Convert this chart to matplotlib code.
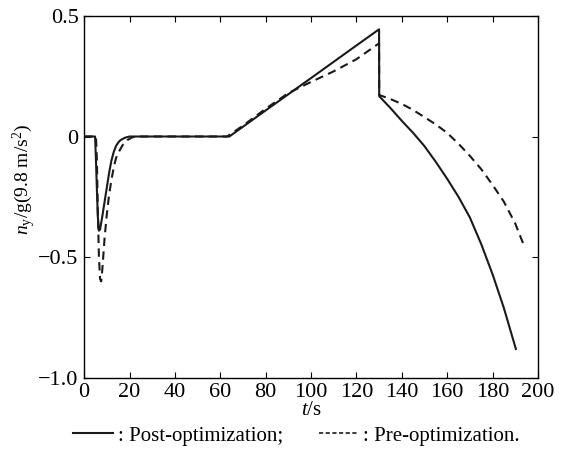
import matplotlib
matplotlib.use("Agg")
import matplotlib.pyplot as plt
from matplotlib.lines import Line2D

plt.rcParams["font.family"] = ["Liberation Serif", "DejaVu Serif"]
plt.rcParams["mathtext.fontset"] = "custom"
plt.rcParams["mathtext.rm"] = "Liberation Serif"
plt.rcParams["mathtext.it"] = "Liberation Serif:italic"

# 优化后（实线）
t_post = [0, 4.8, 5.2, 5.6, 6.0, 6.5, 7.0, 8, 9, 10, 11, 12, 13, 14, 15, 16,
          18, 20, 40, 64.0, 80, 100, 120, 130.0, 130.05, 135, 140, 145, 150,
          155, 160, 165, 170, 175, 180, 185, 190.3]
ny_post = [0, 0, -0.1, -0.22, -0.33, -0.39, -0.385, -0.33, -0.27, -0.21,
           -0.15, -0.1, -0.065, -0.04, -0.025, -0.015, -0.005, 0, 0, 0,
           0.108, 0.242, 0.377, 0.444, 0.167, 0.118, 0.065, 0.015, -0.04,
           -0.105, -0.175, -0.25, -0.335, -0.445, -0.57, -0.71, -0.88]

# 优化前（虚线）
t_pre = [0, 5.2, 5.6, 6.0, 6.5, 7.0, 7.5, 8.0, 9.0, 10, 11, 12, 13, 14, 15,
         17, 19, 21, 23, 40, 63.0, 70, 80, 90, 100, 110, 120, 130.0, 130.05,
         135, 140, 145, 150, 155, 160, 165, 170, 175, 180, 185, 190, 193.8]
ny_pre = [0, 0, -0.1, -0.3, -0.5, -0.59, -0.6, -0.55, -0.42, -0.32, -0.24,
          -0.18, -0.13, -0.09, -0.068, -0.035, -0.015, -0.004, 0, 0, 0,
          0.045, 0.115, 0.18, 0.226, 0.27, 0.32, 0.386, 0.172, 0.155, 0.135,
          0.11, 0.08, 0.05, 0.015, -0.03, -0.08, -0.135, -0.2, -0.27, -0.36,
          -0.45]

x_ticks = [0, 20, 40, 60, 80, 100, 120, 140, 160, 180, 200]
y_ticks = [-1.0, -0.5, 0, 0.5]
y_tick_labels = ["\u22121.0", "\u22120.5", "0", "0.5"]

fig = plt.figure(figsize=(5.65, 4.51), dpi=100)
ax = fig.add_axes([0.149, 0.162, 0.803, 0.803])

ax.plot(t_post, ny_post, color="#1a1a1a", lw=1.5, ls="-")
ax.plot(t_pre, ny_pre, color="#1a1a1a", lw=1.5, ls=(0, (4, 2.6)))

ax.set_xlim(0, 200)
ax.set_ylim(-1.0, 0.5)
ax.set_xticks(x_ticks)
ax.set_yticks(y_ticks)
ax.set_yticklabels(y_tick_labels)
ax.tick_params(direction="in", top=True, right=True, length=4, width=0.8,
               labelsize=16, pad=4)
for s in ax.spines.values():
    s.set_linewidth(1.0)

ax.set_xlabel("$t$/s", fontsize=15, labelpad=-1)
ax.set_ylabel(r"$n_\mathrm{y}$/g(9.8 m/s$^2$)", fontsize=14, labelpad=0)
ax.yaxis.label.set_y(0.547)

handles = [
    Line2D([], [], color="#1a1a1a", lw=1.5, ls="-"),
    Line2D([], [], color="#1a1a1a", lw=1.2, ls=(0, (2.5, 1.5))),
]
fig.legend(handles, [": Post-optimization;", ": Pre-optimization."],
           loc="lower center", bbox_to_anchor=(0.525, -0.03), ncol=2,
           frameon=False, fontsize=15, handlelength=1.9, handletextpad=0.25,
           columnspacing=1.7)

fig.savefig("out.png", dpi=100)
